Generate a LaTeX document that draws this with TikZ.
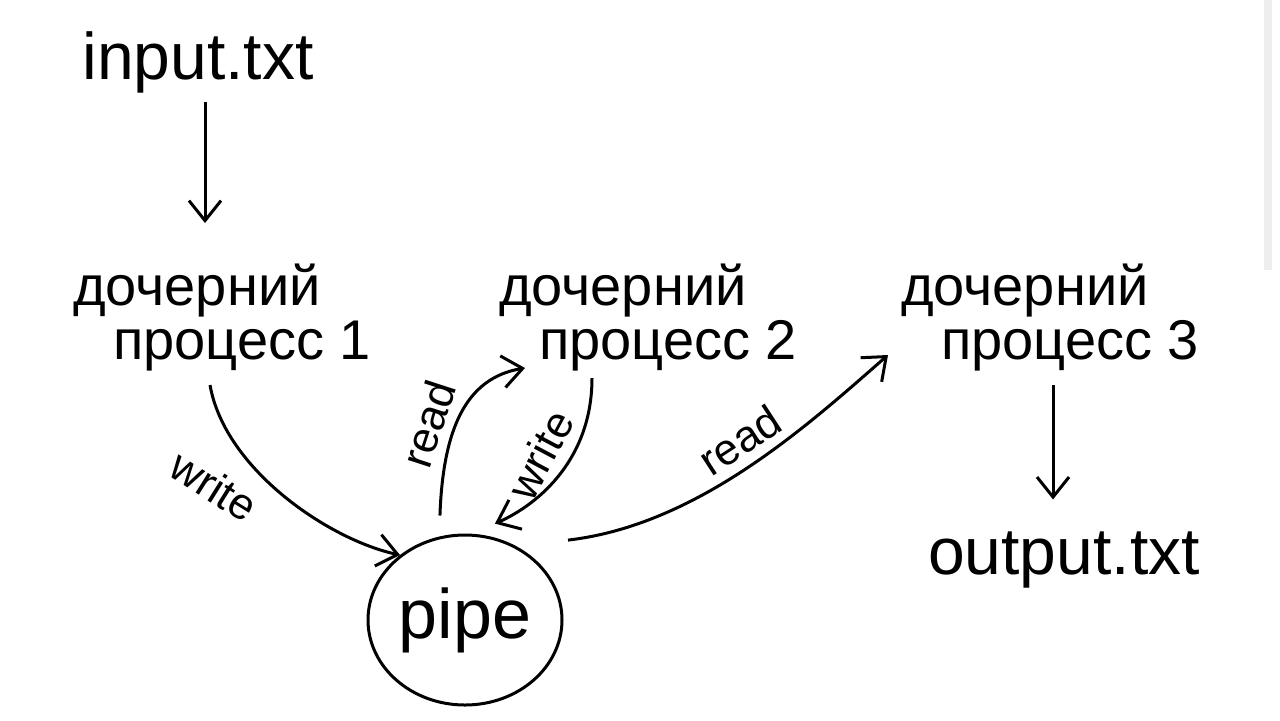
\documentclass[tikz,border=0pt]{standalone}
\usepackage{fontspec}
\setmainfont{Liberation Sans}
\usetikzlibrary{arrows.meta,shapes.geometric,calc}
\definecolor{barg}{HTML}{EEEEEE}
\tikzset{
  arr/.style={line width=1.5pt,-{Straight Barb[length=10pt,width=16pt,line width=1.5pt]}},
  proc/.style={align=left,font=\fontsize{28}{27}\selectfont,inner sep=2pt},
  file/.style={font=\fontsize{33}{36}\selectfont,inner sep=2pt},
  lbl/.style={font=\fontsize{22}{24}\selectfont,inner sep=1pt},
}
\begin{document}
\begin{tikzpicture}[x=0.5pt,y=-0.5pt]
\useasboundingbox (0,0) rectangle (1280,720);
\fill[white] (0,0) rectangle (1280,720);
\fill[barg] (1264,0) rectangle (1272,270);
\node[file] (in) at (198,62) {input.txt};
\node[proc] (p1) at (222,318) {дочерний\\\hspace*{20pt}процесс 1};
\node[proc] (p2) at (648,318) {дочерний\\\hspace*{20pt}процесс 2};
\node[proc] (p3) at (1050,318) {дочерний\\\hspace*{20pt}процесс 3};
\node[draw,line width=1.5pt,ellipse,minimum width=97pt,minimum height=85pt,inner sep=0pt,font=\fontsize{35}{38}\selectfont] (pipe) at (465,620) {pipe};
\node[file] (out) at (1064,560) {output.txt};
\coordinate (a1) at ($(in)+(7,40)$);
\coordinate (a2) at ($(p1)+(-17,-95)$);
\draw[arr] (a1) -- (a2);
\coordinate (w1s) at ($(p1)+(-12,67)$);
\draw[arr] (w1s) .. controls +(15,85) and +(-70,-15) .. (pipe.135);
\node[lbl,rotate=-32] at (214,486) {write};
\coordinate (r1s) at ($(pipe.104)+(-4,-20)$);
\coordinate (r1e) at ($(p2)+(-123,50)$);
\draw[arr] (r1s) .. controls +(3,-85) and +(-60,10) .. (r1e);
\node[lbl,rotate=72] at (428,424) {read};
\coordinate (w2s) at ($(p2)+(-56,60)$);
\draw[arr] (w2s) .. controls +(0,80) and +(45,-20) .. ($(pipe.70)+(0,-14)$);
\node[lbl,rotate=62] at (540,455) {write};
\coordinate (r2s) at ($(pipe.35)+(26,-26)$);
\coordinate (r2e) at ($(p3)+(-162,37)$);
\draw[arr] (r2s) .. controls +(130,-15) and +(-80,70) .. (r2e);
\node[lbl,rotate=33] at (740,440) {read};
\coordinate (o1) at ($(p3)+(3,67)$);
\draw[arr] (o1) -- ($(out.north)+(-11,-28)$);
\end{tikzpicture}
\end{document}
